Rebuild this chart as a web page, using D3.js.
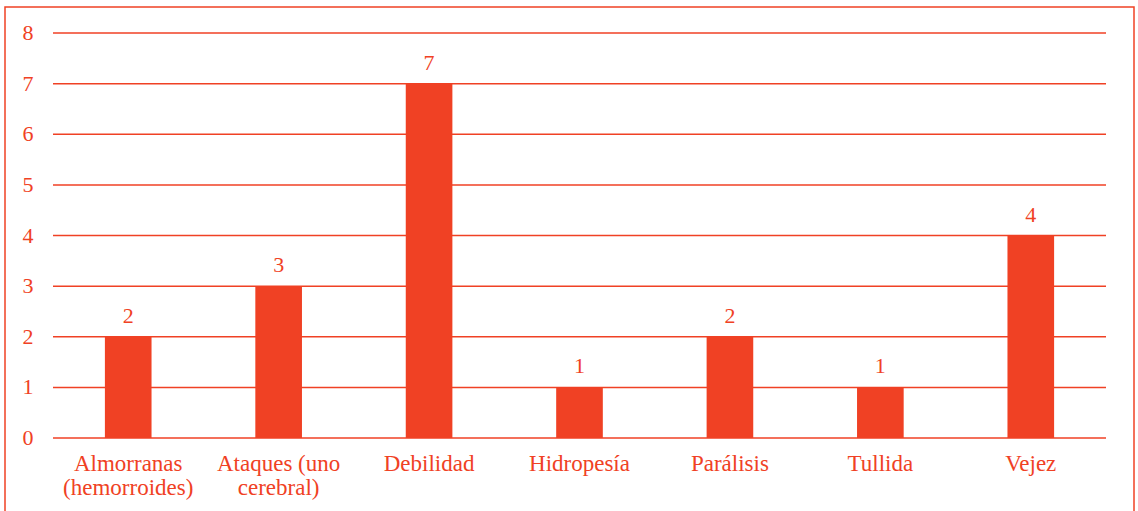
<!DOCTYPE html>
<html lang="es">
<head>
<meta charset="UTF-8">
<title>Causas</title>
<script src="https://d3js.org/d3.v7.min.js"></script>
<style>
  html, body { margin: 0; padding: 0; background: #fff; overflow: hidden; }
  text { font-family: "Liberation Serif", "Times New Roman", serif; fill: #f04124; }
</style>
</head>
<body>
<script>
// data
const categories = [["Almorranas", "(hemorroides)"], ["Ataques (uno", "cerebral)"], ["Debilidad"], ["Hidropesía"], ["Parálisis"], ["Tullida"], ["Vejez"]];
const values = [2, 3, 7, 1, 2, 1, 4];
const yTicks = [0, 1, 2, 3, 4, 5, 6, 7, 8];

const W = 1138, H = 511;
const red = "#f04124";
const margin = { left: 53, right: 32, top: 33, bottom: 73 };

const svg = d3.select("body").append("svg")
    .attr("width", W)
    .attr("height", H);

// outer frame (bottom edge falls off the image)
svg.append("rect")
    .attr("x", 5).attr("y", 7)
    .attr("width", 1129).attr("height", 530)
    .attr("fill", "none")
    .attr("stroke", red)
    .attr("stroke-width", 1.5);

const x = d3.scaleBand()
    .domain(categories.map((d, i) => i))
    .range([margin.left, W - margin.right])
    .paddingInner(0.69)
    .paddingOuter(0.345);

const y = d3.scaleLinear()
    .domain([0, 8])
    .range([H - margin.bottom, margin.top]);

// gridlines
svg.append("g")
    .selectAll("line")
    .data(yTicks)
    .join("line")
    .attr("x1", margin.left)
    .attr("x2", W - margin.right)
    .attr("y1", d => y(d))
    .attr("y2", d => y(d))
    .attr("stroke", red)
    .attr("stroke-width", 1.5);

// y labels
svg.append("g")
    .selectAll("text")
    .data(yTicks)
    .join("text")
    .attr("x", 28)
    .attr("y", d => y(d) + 7)
    .attr("text-anchor", "middle")
    .attr("font-size", 22)
    .text(d => d);

// bars
svg.append("g")
    .selectAll("rect")
    .data(values)
    .join("rect")
    .attr("x", (d, i) => x(i))
    .attr("width", x.bandwidth())
    .attr("y", d => y(d))
    .attr("height", d => y(0) - y(d))
    .attr("fill", red);

// value labels
svg.append("g")
    .selectAll("text")
    .data(values)
    .join("text")
    .attr("x", (d, i) => x(i) + x.bandwidth() / 2)
    .attr("y", d => y(d) - 14)
    .attr("text-anchor", "middle")
    .attr("font-size", 22)
    .text(d => d);

// category labels
const cat = svg.append("g")
    .selectAll("text")
    .data(categories)
    .join("text")
    .attr("x", (d, i) => x(i) + x.bandwidth() / 2)
    .attr("y", y(0) + 33)
    .attr("text-anchor", "middle")
    .attr("font-size", 23);

cat.selectAll("tspan")
    .data(d => d)
    .join("tspan")
    .attr("x", function () { return this.parentNode.getAttribute("x"); })
    .attr("dy", (d, i) => i === 0 ? 0 : 24)
    .text(d => d);
</script>
</body>
</html>
